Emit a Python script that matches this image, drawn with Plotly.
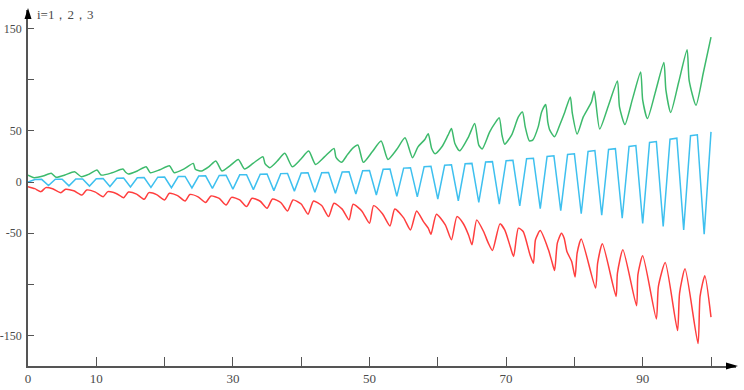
import plotly.graph_objects as go

# ---------------- data ----------------
green_x = [0.0, 0.9, 2.2, 3.4, 4.1, 5.4, 6.8, 7.8, 9.0, 10.1, 10.7, 12.3, 13.9, 14.3, 14.7, 16.0,
           17.3, 17.9, 19.3, 20.7, 21.4, 22.8, 24.2, 24.5, 25.4, 26.5, 27.5, 28.4, 29.6, 30.8,
           31.7, 33.0, 34.4, 34.7, 35.4, 36.5, 37.6, 38.7, 39.9, 41.1, 42.1, 43.4, 44.8, 45.1,
           45.9, 46.8, 47.6, 48.3, 49.1, 50.4, 51.7, 52.7, 54.0, 55.2, 56.3, 57.1, 58.1, 58.6,
           59.1, 59.6, 60.6, 61.5, 62.0, 62.5, 63.2, 64.5, 65.4, 66.0, 66.5, 67.6, 68.4, 69.0,
           69.4, 69.8, 70.8, 71.8, 72.4, 72.8, 73.4, 73.9, 74.7, 75.2, 75.8, 76.1, 76.4, 77.1,
           77.9, 78.6, 79.4, 79.7, 80.4, 81.3, 82.5, 82.9, 83.7, 85.0, 86.3, 86.6, 87.4, 88.5,
           89.7, 90.0, 90.7, 91.9, 93.1, 93.4, 94.1, 95.3, 96.5, 96.8, 97.8, 98.9, 100.0]
green_y = [6.8, 4.2, 5.8, 8.5, 4.6, 6.8, 10.0, 5.2, 7.8, 11.7, 6.8, 9.0, 12.7, 9.5, 7.8, 10.8,
           14.9, 9.1, 12.0, 15.9, 9.1, 12.6, 18.2, 12.4, 10.7, 15.0, 20.5, 10.7, 16.0, 22.1,
           12.7, 18.5, 24.7, 18.0, 14.0, 20.5, 28.0, 14.9, 22.0, 30.2, 17.2, 24.5, 32.8, 24.0,
           19.2, 27.0, 33.4, 36.1, 19.2, 29.5, 40.0, 22.1, 32.0, 43.2, 23.8, 34.4, 41.6, 47.2,
           32.8, 27.6, 34.4, 45.8, 52.3, 37.7, 30.5, 44.2, 57.2, 36.1, 32.3, 49.0, 57.8, 62.7,
           45.8, 37.0, 45.8, 63.6, 68.5, 53.9, 40.3, 41.0, 53.9, 68.5, 75.7, 58.8, 50.7, 44.2,
           56.5, 68.5, 83.2, 67.0, 46.8, 63.6, 78.3, 88.7, 51.7, 75.0, 98.7, 73.4, 56.2, 81.0,
           107.5, 80.0, 62.0, 89.0, 116.7, 89.7, 67.9, 98.5, 129.3, 99.4, 75.0, 107.5, 141.6]

cyan_x = list(range(101))
cyan_y = [0.0,
          2.5, 2.6, -3.5, 2.7, 2.8, -3.8, 3.0, 3.0, -4.0, 3.3, 3.4, -4.4,
          3.7, 3.8, -4.8, 4.2, 4.3, -5.2, 4.7, 4.8, -5.6, 5.3, 5.4, -5.8,
          5.8, 6.0, -6.3, 6.4, 6.6, -7.0, 7.0, 7.2, -7.4, 7.7, 7.9, -8.4,
          8.2, 8.4, -8.9, 8.8, 9.0, -10.0, 9.0, 9.3, -11.0, 9.8, 10.0, -11.7,
          11.0, 11.2, -12.7, 12.4, 12.7, -14.0, 13.6, 14.0, -14.6, 15.0, 15.4, -16.6,
          16.4, 16.8, -18.3, 17.8, 18.2, -19.8, 19.5, 19.9, -21.5, 20.8, 21.2, -23.4,
          22.8, 23.2, -26.0, 25.0, 25.6, -28.0, 27.0, 27.6, -31.0, 29.8, 30.8, -32.5,
          31.8, 32.6, -35.4, 34.8, 35.6, -40.5, 38.6, 39.6, -43.5, 41.8, 42.8, -46.8,
          45.2, 46.2, -51.0, 49.0]

red_x = [0.0, 1.0, 1.9, 2.6, 3.6, 4.8, 5.5, 6.7, 7.9, 8.6, 9.8, 11.0, 11.7, 12.9, 14.0, 14.7,
         15.9, 17.0, 17.7, 18.9, 20.0, 20.7, 21.9, 23.0, 23.7, 24.9, 26.0, 26.8, 28.0, 29.0,
         29.8, 31.0, 32.0, 32.8, 34.0, 35.0, 35.8, 37.0, 38.0, 38.8, 40.0, 41.0, 41.8, 43.0,
         44.0, 44.8, 46.0, 47.0, 47.6, 48.9, 50.0, 50.6, 51.9, 53.0, 53.7, 55.0, 56.0, 56.9,
         57.9, 58.6, 59.0, 59.8, 61.1, 62.0, 62.8, 63.7, 64.5, 65.0, 65.7, 66.7, 67.4, 68.0,
         69.1, 69.8, 70.6, 71.1, 71.8, 72.5, 73.5, 74.0, 74.3, 75.0, 76.2, 76.7, 77.1, 77.5,
         78.1, 78.5, 78.9, 79.6, 80.1, 80.4, 81.0, 83.1, 83.4, 84.1, 86.1, 86.3, 87.1, 89.1,
         89.3, 90.0, 92.0, 92.3, 93.3, 95.1, 95.4, 96.2, 98.1, 98.4, 99.1, 100.0]
red_y = [-4.5, -6.5, -9.4, -5.5, -6.6, -10.4, -7.1, -8.6, -12.7, -7.8, -9.6, -14.3, -9.4, -11.2,
         -15.3, -9.8, -11.8, -16.9, -10.4, -12.6, -17.5, -11.0, -13.3, -18.5, -12.2, -14.5,
         -20.0, -13.6, -16.0, -22.4, -15.0, -17.5, -24.0, -15.9, -18.8, -25.7, -16.6, -20.0,
         -28.3, -17.5, -21.5, -31.5, -18.5, -23.0, -33.8, -20.8, -26.5, -37.0, -21.8, -28.5,
         -40.3, -23.1, -31.0, -42.9, -26.3, -35.0, -46.8, -28.3, -38.7, -45.1, -51.0, -31.5,
         -41.9, -56.5, -33.8, -40.3, -51.7, -61.4, -37.0, -48.4, -59.7, -66.9, -40.9, -46.8,
         -63.0, -72.8, -45.1, -48.4, -71.2, -79.3, -56.5, -47.5, -66.3, -77.7, -86.5, -59.7,
         -50.0, -54.9, -67.9, -77.7, -92.9, -69.5, -55.6, -103.6, -79.3, -60.4, -111.8, -89.0,
         -66.3, -120.9, -90.6, -72.1, -133.8, -102.0, -78.7, -145.2, -108.5, -84.8, -157.9,
         -111.8, -91.6, -132.0]

x_tick_vals = [0, 10, 20, 30, 40, 50, 60, 70, 80, 90, 100]
x_tick_text = ["0", "10", "", "30", "", "50", "", "70", "", "90", ""]
y_tick_vals = [-150, -100, -50, 0, 50, 100, 150]
y_tick_text = ["-150", "", "-50", "0", "50", "", "150"]
title_text = "i=1，2，3"

# ---------------- figure ----------------
AX = "#555555"
TXT = "#4a4a4a"
FONT = "Liberation Serif"

fig = go.Figure()
fig.add_trace(go.Scatter(x=green_x, y=green_y, mode="lines",
                         line=dict(color="#3dba6c", width=1.5, shape="spline", smoothing=0.6)))
fig.add_trace(go.Scatter(x=cyan_x, y=cyan_y, mode="lines",
                         line=dict(color="#3ec0ef", width=1.5)))
fig.add_trace(go.Scatter(x=red_x, y=red_y, mode="lines",
                         line=dict(color="#ff3e3e", width=1.5, shape="spline", smoothing=0.6)))

W, H = 744, 390
L, R, T, B = 28, 8, 10, 24
pw = W - L - R
ph = H - T - B

fig.update_layout(
    width=W, height=H,
    margin=dict(l=L, r=R, t=T, b=B),
    paper_bgcolor="white", plot_bgcolor="white",
    showlegend=False,
    xaxis=dict(range=[0, 100 * pw / 683.0], showgrid=False, zeroline=False,
               automargin=False,
               showline=True, linecolor=AX, linewidth=1.5,
               tickmode="array", tickvals=x_tick_vals, ticktext=x_tick_text,
               ticks="inside", ticklen=9, tickcolor=AX, tickwidth=1,
               tickfont=dict(family=FONT, size=13, color=TXT)),
    yaxis=dict(range=[-179.8, 168.1], showgrid=False, zeroline=False,
               automargin=False,
               showline=True, linecolor=AX, linewidth=1.5,
               tickmode="array", tickvals=y_tick_vals, ticktext=y_tick_text,
               ticks="inside", ticklen=6, tickcolor=AX, tickwidth=1,
               ticklabelstandoff=2,
               tickfont=dict(family=FONT, size=12, color=TXT)),
)

# axis arrow heads (paper coordinates)
def px2paper(px, py):
    return (px - L) / pw, (H - B - py) / ph

tip = px2paper(28, 8); b1 = px2paper(24.5, 19); b2 = px2paper(31.5, 19)
fig.add_shape(type="path", xref="paper", yref="paper",
              path=f"M {tip[0]},{tip[1]} L {b1[0]},{b1[1]} L {b2[0]},{b2[1]} Z",
              fillcolor="black", line=dict(width=0))
tip = px2paper(738, 366); b1 = px2paper(726, 362.5); b2 = px2paper(726, 369.5)
fig.add_shape(type="path", xref="paper", yref="paper",
              path=f"M {tip[0]},{tip[1]} L {b1[0]},{b1[1]} L {b2[0]},{b2[1]} Z",
              fillcolor="black", line=dict(width=0))

tx, ty = px2paper(35, 14)
fig.add_annotation(x=tx, y=ty, xref="paper", yref="paper", text=title_text,
                   showarrow=False, xanchor="left", yanchor="middle",
                   font=dict(family=FONT, size=13, color=TXT))

fig.write_html("out.html")
